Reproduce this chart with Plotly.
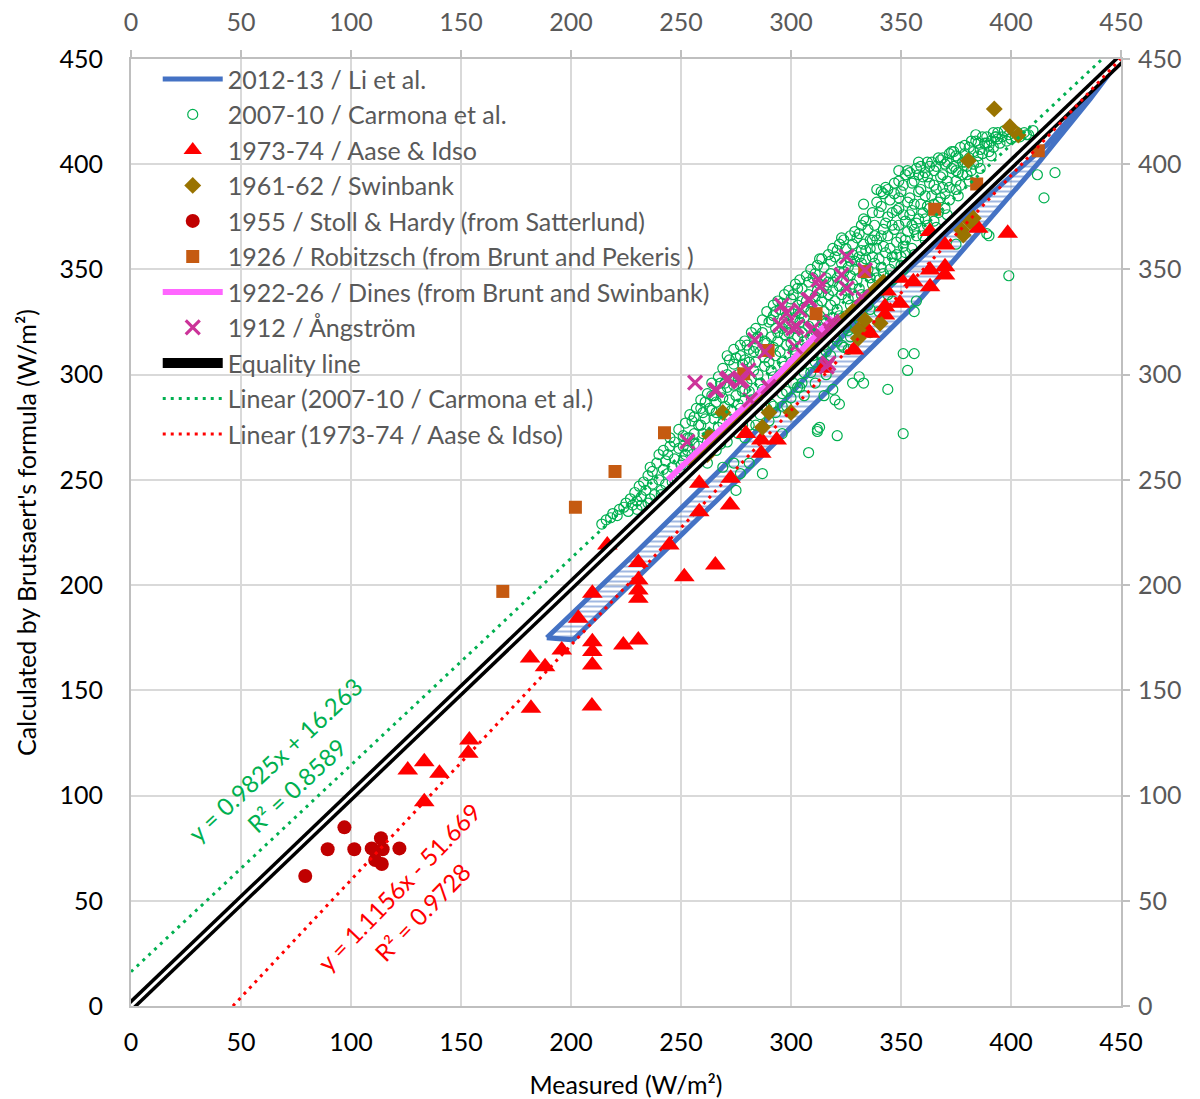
import plotly.graph_objects as go
import numpy as np

# ---------------- data ----------------
# 2012-13 / Li et al. : band outline (upper edge then lower edge)
li_upper = [(189, 175), (230, 216), (268, 255), (300, 291), (337, 334), (380, 376), (416, 409), (449, 449)]
li_lower = [(449, 449), (436, 431), (412, 400), (358, 335), (301, 276), (266, 240), (201, 174)]

# 2007-10 / Carmona et al.
carmona_pts = [
    (214,229),(216,231),(218,232),(219,234),(221,233),(222,236),(224,237),(225,239),(226,235),(227,241),(228,238),
    (229,244),(230,240),(231,247),(230,236),(232,242),(233,249),(232,238),
    (234,245),(235,252),(236,241),(236,256),(237,248),(238,243),(237,254),(235,239),
    (239,258),(240,250),(241,245),(240,262),(242,255),(243,248),(242,264),(241,243),(243,259),
    (244,253),(245,266),(246,249),(245,270),(247,260),(246,256),(248,251),(247,268),(244,262),
    (249,274),(250,257),(251,266),(250,253),(252,277),(252,262),(253,270),(251,259),(249,265),
    (254,281),(255,262),(256,272),(255,257),(257,284),(256,267),(258,276),(254,270),(257,260),(255,278),
    (259,288),(260,264),(261,279),(260,272),(262,291),(261,261),(263,284),(259,276),(262,268),(260,282),
    (264,296),(265,270),(266,287),(265,279),(267,299),(266,264),(268,292),(264,283),(267,275),(265,290),(268,267),
    (269,303),(270,274),(271,294),(270,285),(272,307),(271,268),(273,298),(269,289),(272,279),(270,296),(273,283),(271,309),
    (274,312),(275,278),(276,300),(275,290),(277,314),(276,272),(278,305),(274,295),(277,284),(275,308),(278,292),(276,298),
    (279,316),(280,282),(281,306),(280,296),(282,320),(281,276),(283,311),(279,300),(282,288),(280,314),(283,302),(281,292),(279,307),
    (284,322),(285,287),(286,311),(285,300),(287,326),(286,281),(288,316),(284,306),(287,293),(285,318),(288,304),(286,296),(284,313),
    (289,330),(290,291),(291,318),(290,306),(292,333),(291,286),(293,322),(289,311),(292,299),(290,325),(293,309),(291,302),(289,315),(292,328),
    (294,335),(295,296),(296,322),(295,311),(297,338),(296,291),(298,328),(294,316),(297,304),(295,331),(298,314),(296,306),(294,320),(297,325),
    (299,340),(300,300),(301,327),(300,315),(302,343),(301,296),(303,333),(299,320),(302,309),(300,336),(303,318),(301,312),(299,324),(302,330),(300,306),
    (304,345),(305,305),(306,332),(305,320),(307,347),(306,301),(308,338),(304,325),(307,313),(305,341),(308,323),(306,316),(304,329),(307,335),(305,310),
    (309,350),(310,309),(311,337),(310,325),(312,352),(311,306),(313,343),(309,330),(312,318),(310,346),(313,328),(311,321),(309,334),(312,340),(310,314),
    (314,355),(315,314),(316,341),(315,330),(317,357),(316,311),(318,348),(314,335),(317,323),(315,351),(318,333),(316,326),(314,339),(317,344),(315,319),
    (319,360),(320,318),(321,346),(320,335),(322,362),(321,316),(323,353),(319,340),(322,328),(320,356),(323,338),(321,331),(319,344),(322,349),(320,323),
    (324,364),(325,323),(326,351),(325,340),(327,366),(326,321),(328,357),(324,345),(327,333),(325,360),(328,343),(326,336),(324,349),(327,354),(325,328),
    (329,368),(330,328),(331,356),(330,345),(332,371),(331,326),(333,362),(329,350),(332,338),(330,365),(333,348),(331,341),(329,354),(332,359),(330,333),
    (334,373),(335,333),(336,360),(335,350),(337,377),(336,331),(338,366),(334,355),(337,343),(335,369),(338,353),(336,346),(334,359),(337,364),(335,338),
    (339,382),(340,342),(341,366),(340,355),(342,386),(341,340),(343,372),(339,360),(342,348),(340,377),(343,358),(341,351),(339,364),(342,369),(340,345),
    (344,388),(345,347),(346,371),(345,360),(347,391),(346,345),(348,378),(344,366),(347,353),(345,383),(348,363),(346,356),(344,375),(347,369),(345,350),
    (349,392),(350,352),(351,376),(350,365),(352,395),(351,350),(353,382),(349,371),(352,358),(350,387),(353,368),(351,361),(349,379),(352,373),(350,356),
    (354,396),(355,360),(356,381),(355,371),(357,398),(356,357),(358,387),(354,376),(357,366),(355,391),(358,374),(356,369),(354,384),
    (359,399),(360,366),(361,385),(360,377),(362,401),(361,364),(363,391),(359,381),(362,371),(360,394),(363,379),(361,374),
    (364,401),(365,373),(366,388),(365,381),(367,403),(366,370),(368,394),(364,385),(367,377),(365,397),(368,384),
    (369,403),(370,379),(371,392),(370,386),(372,405),(371,376),(373,398),(369,389),(372,383),(370,400),
    (374,406),(375,388),(376,396),(375,392),(377,408),(376,385),(378,401),(374,399),(377,390),(375,404),
    (379,409),(380,395),(381,403),(380,399),(382,411),(381,392),(383,406),(379,401),(382,397),
    (384,411),(385,401),(386,407),(385,404),(387,413),(386,398),(388,410),
    (389,413),(390,406),(391,411),(390,409),(392,415),(391,404),(393,413),
    (394,415),(395,410),(396,413),(397,416),(398,411),
    (399,414),(400,412),(401,416),(402,413),(403,415),
    (404,413),(406,415),(408,414),(410,416),
    # second pass through the dense core
    (251,271),(253,264),(256,280),(258,266),(259,284),
    (261,287),(263,272),(264,290),(266,282),(268,296),(269,277),
    (271,300),(272,288),(274,305),(276,286),(277,309),(279,293),(278,276),
    (281,312),(282,298),(284,317),(286,290),(287,320),(288,308),(289,284),
    (291,326),(292,313),(293,330),(295,300),(296,334),(297,319),(298,292),(299,330),
    (301,338),(302,322),(303,341),(304,304),(305,335),(306,327),(308,344),(309,318),
    (311,348),(312,333),(313,355),(314,309),(316,346),(317,338),(318,354),(319,327),
    (321,359),(322,342),(323,365),(324,313),(326,356),(327,347),(328,362),(329,337),
    (331,367),(332,353),(333,374),(334,322),(336,364),(337,356),(338,371),(339,346),
    (341,380),(342,361),(343,389),(344,338),(346,377),(347,386),(348,357),(349,384),
    (351,390),(352,364),(353,397),(355,378),(356,392),(357,372),(358,395),(359,388),
    (361,396),(362,380),(363,399),(365,390),(366,399),(367,382),(368,402),(369,395),
    (371,401),(372,389),(373,406),(375,397),(376,403),(378,395),(379,405),
    (381,408),(383,400),(385,410),(387,405),(389,410),(392,408),(394,412),
    # below the equality line
    (305,296),(309,301),(314,306),(318,309),(323,314),(327,318),(311,296),(300,289),(292,285),(284,276),
    (279,270),(290,278),(298,285),(306,290),(316,300),(326,312),(336,320),(340,330),(346,335),
    # scattered points
    (333,381),(339,388),(341,387),(349,397),(358,401),(362,394),(384,414),(393,413),(407,414),
    (420,396),(412,395),(415,384),(399,347),(389,367),(375,362),(357,335),(356,330),(351,310),(356,310),
    (353,302),(331,299),(333,296),(344,293),(312,274),(321,271),(308,263),(351,272),(320,288),(315,290),
    (304,294),(319,293),(322,286),(313,275),(312,273),(328,296),(390,366),
    (262,258),(269,256),(277,253),(274,258),(296,272),(303,294),(296,285),(293,282),(275,245),(287,253),(281,258),
]

# 1973-74 / Aase & Idso
aase_x = [216.5, 209.7, 203.3, 230.6, 230.6, 230.6, 230.6, 209.7, 209.7, 209.7, 223.8, 230.6, 195.8, 188.2, 181.4,
          244.7, 251.5, 265.6, 258.3, 258.3, 272.3, 272.6, 279.5, 286.5, 286.5, 293.5, 181.8, 209.5,
          125.8, 133.3, 140.2, 133.3, 153.8, 153.3,
          363.2, 370.0, 385.1, 398.5, 363.2, 370.0, 370.0, 363.2, 355.6, 349.5, 342.7, 349.5, 342.7, 335.9,
          328.6, 314.7, 343.5, 333.6]
aase_y = [219.1, 196.1, 184.2, 210.7, 202.4, 197.7, 193.7, 173.1, 168.4, 162.0, 171.5, 173.9, 169.2, 161.2, 165.4,
          219.1, 204.0, 209.6, 234.9, 248.4, 238.1, 250.8, 272.1, 269.0, 262.6, 269.0, 141.5, 142.6,
          112.1, 116.1, 110.6, 97.1, 126.4, 120.1,
          368.0, 361.6, 369.6, 367.2, 349.7, 351.3, 347.4, 341.8, 344.2, 345.8, 332.3, 333.9, 328.4, 319.7,
          311.7, 303.0, 339.7, 322.8]

# 1961-62 / Swinbank
swinbank_pts = [
    (256,258),(258,259),(260,262),(262,262),(264,266),(266,267),(268,270),(270,271),(272,274),(274,276),
    (276,277),(278,280),(280,281),(282,284),(284,286),(286,287),(288,290),(290,291),(292,294),(294,296),
    (296,297),(298,300),(300,301),(302,304),(304,306),(306,307),(308,310),(310,311),(312,314),(314,316),
    (316,317),(318,320),(320,321),(322,324),(324,326),(326,327),(328,330),(330,331),(332,334),(334,336),
    (336,337),(338,340),(340,341),(342,344),
    (263,271),(269,282),(290,282),(287,275),(300,282),(330.6,321.2),(340.5,324.4),(333.6,326),(330.6,317.3),
    (377.6,368.7),(381.4,372.7),(378.3,366.4),(382.9,374.3),(380.6,401.7),(392.4,426.3),(399.5,417.8),(403.3,413.9),
]

# 1955 / Stoll & Hardy
stoll_x = [97.0, 89.4, 101.5, 109.4, 113.6, 114.4, 122.0, 111.0, 114.0, 79.2]
stoll_y = [84.9, 74.5, 74.5, 74.9, 79.7, 74.5, 74.9, 69.4, 67.5, 61.8]

# 1926 / Robitzsch
robitzsch_x = [169.0, 202.0, 220.0, 242.5, 278.5, 289.6, 311.4, 333.5, 365.3, 384.4, 412.4]
robitzsch_y = [197.0, 237.0, 254.0, 272.4, 300.4, 311.5, 329.0, 349.0, 378.6, 390.6, 406.4]

# 1922-26 / Dines
dines_x = [244, 270, 295, 319]
dines_y = [250, 276, 301, 327]

# 1912 / Angstrom
angstrom_x = [256.4, 252.9, 265.5, 271.5, 276.8, 280.6, 283.6, 288.2, 281.4, 289.7, 295.8, 298.0, 295.0, 302.6,
              301.8, 307.9, 310.1, 312.4, 314.0, 319.2, 323.0, 325.3, 317.0, 325.3, 333.6, 332.1, 313.2, 308.6,
              304.1, 301.0, 309.4, 317.7, 270.8, 277.6, 290.5, 316.2, 318.5, 266.2]
angstrom_y = [296.2, 268.2, 292.7, 298.3, 296.7, 302.2, 316.5, 310.9, 288.0, 294.3, 333.1, 329.2, 323.6, 322.8,
              313.3, 335.5, 322.0, 345.0, 318.8, 323.6, 347.4, 356.1, 305.4, 341.0, 349.7, 337.0, 341.8, 335.5,
              330.7, 322.0, 321.2, 321.2, 297.5, 297.5, 293.5, 303.8, 325.2, 292.7]

# Equality line and trend-line coefficients
equality_x = [0, 450]
equality_y = [0, 450]
carmona_slope, carmona_icpt = 0.9825, 16.263
aase_slope, aase_icpt = 1.1156, -51.669

axis_ticks = [0, 50, 100, 150, 200, 250, 300, 350, 400, 450]

# ---------------- figure ----------------
FONT = "Lato"
GREY = "#595959"
FS = 25
fig = go.Figure()

li_x = [p[0] for p in li_upper + li_lower] + [li_upper[0][0]]
li_y = [p[1] for p in li_upper + li_lower] + [li_upper[0][1]]
fig.add_trace(go.Scatter(x=li_x, y=li_y, mode="lines", fill="toself", showlegend=False,
                         line=dict(width=0, color="#4472C4"), fillcolor="rgba(0,0,0,0)",
                         fillpattern=dict(shape="-", fgcolor="#4472C4", bgcolor="rgba(0,0,0,0)",
                                          size=5, solidity=0.4), hoverinfo="skip"))
fig.add_trace(go.Scatter(x=li_x, y=li_y, mode="lines", name="2012-13 / Li et al.",
                         line=dict(width=5, color="#4472C4"), legendrank=1))

fig.add_trace(go.Scatter(x=[p[0] for p in carmona_pts], y=[p[1] for p in carmona_pts], mode="markers",
                         name="2007-10 / Carmona et al.", legendrank=2,
                         marker=dict(symbol="circle-open", size=10, color="#00B050", line=dict(width=1.2))))

fig.add_trace(go.Scatter(x=aase_x, y=aase_y, mode="markers", name="1973-74 / Aase & Idso",
                         legendrank=3, marker=dict(symbol="triangle-up", size=18, color="#FF0000")))

fig.add_trace(go.Scatter(x=[p[0] for p in swinbank_pts], y=[p[1] for p in swinbank_pts], mode="markers",
                         name="1961-62 / Swinbank", legendrank=4,
                         marker=dict(symbol="diamond", size=13, color="#997300")))

fig.add_trace(go.Scatter(x=stoll_x, y=stoll_y, mode="markers", name="1955 / Stoll & Hardy (from Satterlund)",
                         legendrank=5, marker=dict(symbol="circle", size=14, color="#C00000")))

fig.add_trace(go.Scatter(x=robitzsch_x, y=robitzsch_y, mode="markers",
                         name="1926 / Robitzsch (from Brunt and Pekeris )", legendrank=6,
                         marker=dict(symbol="square", size=13, color="#C55A11")))

fig.add_trace(go.Scatter(x=dines_x, y=dines_y, mode="lines", name="1922-26 / Dines (from Brunt and Swinbank)",
                         legendrank=7, line=dict(width=6, color="#FF66FF")))

fig.add_trace(go.Scatter(x=angstrom_x, y=angstrom_y, mode="markers", name="1912 / Ångström",
                         legendrank=8,
                         marker=dict(symbol="x-thin", size=14, color="#CC3399",
                                     line=dict(width=3.2, color="#CC3399"))))

fig.add_trace(go.Scatter(x=equality_x, y=equality_y, mode="lines", name="Equality line",
                         legendrank=9, line=dict(width=10, color="black")))
fig.add_trace(go.Scatter(x=equality_x, y=equality_y, mode="lines", showlegend=False,
                         line=dict(width=3, color="white"), hoverinfo="skip"))

cx = np.array([0.0, (450 - carmona_icpt) / carmona_slope])
fig.add_trace(go.Scatter(x=cx, y=carmona_slope * cx + carmona_icpt, mode="lines",
                         name="Linear (2007-10 / Carmona et al.)", legendrank=10,
                         line=dict(width=3, color="#00B050", dash="3px,5px")))
ax_ = np.array([-aase_icpt / aase_slope, (450 - aase_icpt) / aase_slope])
fig.add_trace(go.Scatter(x=ax_, y=aase_slope * ax_ + aase_icpt, mode="lines",
                         name="Linear (1973-74 / Aase & Idso)", legendrank=11,
                         line=dict(width=3, color="#FF0000", dash="3px,5px")))

# secondary (top / right) axes carrier
fig.add_trace(go.Scatter(x=[None], y=[None], xaxis="x2", yaxis="y2", showlegend=False, hoverinfo="skip"))

# trend-line equations
fig.add_annotation(x=65.5, y=116.9, text="y = 0.9825x + 16.263", showarrow=False, textangle=-43,
                   font=dict(family=FONT, size=24, color="#00B050"))
fig.add_annotation(x=75.0, y=105.0, text="R² = 0.8589", showarrow=False, textangle=-43,
                   font=dict(family=FONT, size=24, color="#00B050"))
fig.add_annotation(x=122.0, y=56.7, text="y = 1.1156x - 51.669", showarrow=False, textangle=-46,
                   font=dict(family=FONT, size=24, color="#FF0000"))
fig.add_annotation(x=132.6, y=44.8, text="R² = 0.9728", showarrow=False, textangle=-46,
                   font=dict(family=FONT, size=24, color="#FF0000"))

axis_common = dict(range=[0, 450], tickvals=axis_ticks, ticktext=[str(t) for t in axis_ticks],
                   showgrid=True, gridcolor="#D9D9D9", gridwidth=2, zeroline=False,
                   showline=True, linecolor="#BFBFBF", linewidth=2, automargin=False)
axis2_common = dict(range=[0, 450], tickvals=axis_ticks, ticktext=[str(t) for t in axis_ticks],
                    showgrid=False, zeroline=False, showline=True, linecolor="#BFBFBF", linewidth=2,
                    ticks="outside", ticklen=7, tickcolor="#BFBFBF", tickwidth=2, automargin=False,
                    tickfont=dict(family=FONT, size=FS, color=GREY))

fig.update_layout(
    width=1200, height=1099,
    margin=dict(l=131, r=79, t=59, b=93),
    paper_bgcolor="white", plot_bgcolor="white",
    font=dict(family=FONT, size=FS, color="black"),
    showlegend=True,
    legend=dict(x=0.027, y=1.003, xanchor="left", yanchor="top", bgcolor="rgba(0,0,0,0)",
                font=dict(family=FONT, size=FS, color=GREY), itemwidth=60,
                traceorder="normal"),
    xaxis=dict(**axis_common, ticks="", ticklabelstandoff=13,
               tickfont=dict(family=FONT, size=FS, color="black"),
               title=dict(text="Measured (W/m²)", standoff=21,
                          font=dict(family=FONT, size=FS, color="black"))),
    yaxis=dict(**axis_common, ticks="", ticklabelstandoff=21,
               tickfont=dict(family=FONT, size=FS, color="black"),
               title=dict(text="Calculated by Brutsaert's formula (W/m²)", standoff=16,
                          font=dict(family=FONT, size=FS, color="black"))),
    xaxis2=dict(**axis2_common, overlaying="x", side="top", anchor="y", ticklabelstandoff=9),
    yaxis2=dict(**axis2_common, overlaying="y", side="right", anchor="x", ticklabelstandoff=3),
)

fig.write_html("out.html", config={"displayModeBar": False},
               post_script="document.body.style.margin='0';document.body.style.padding='0';")
